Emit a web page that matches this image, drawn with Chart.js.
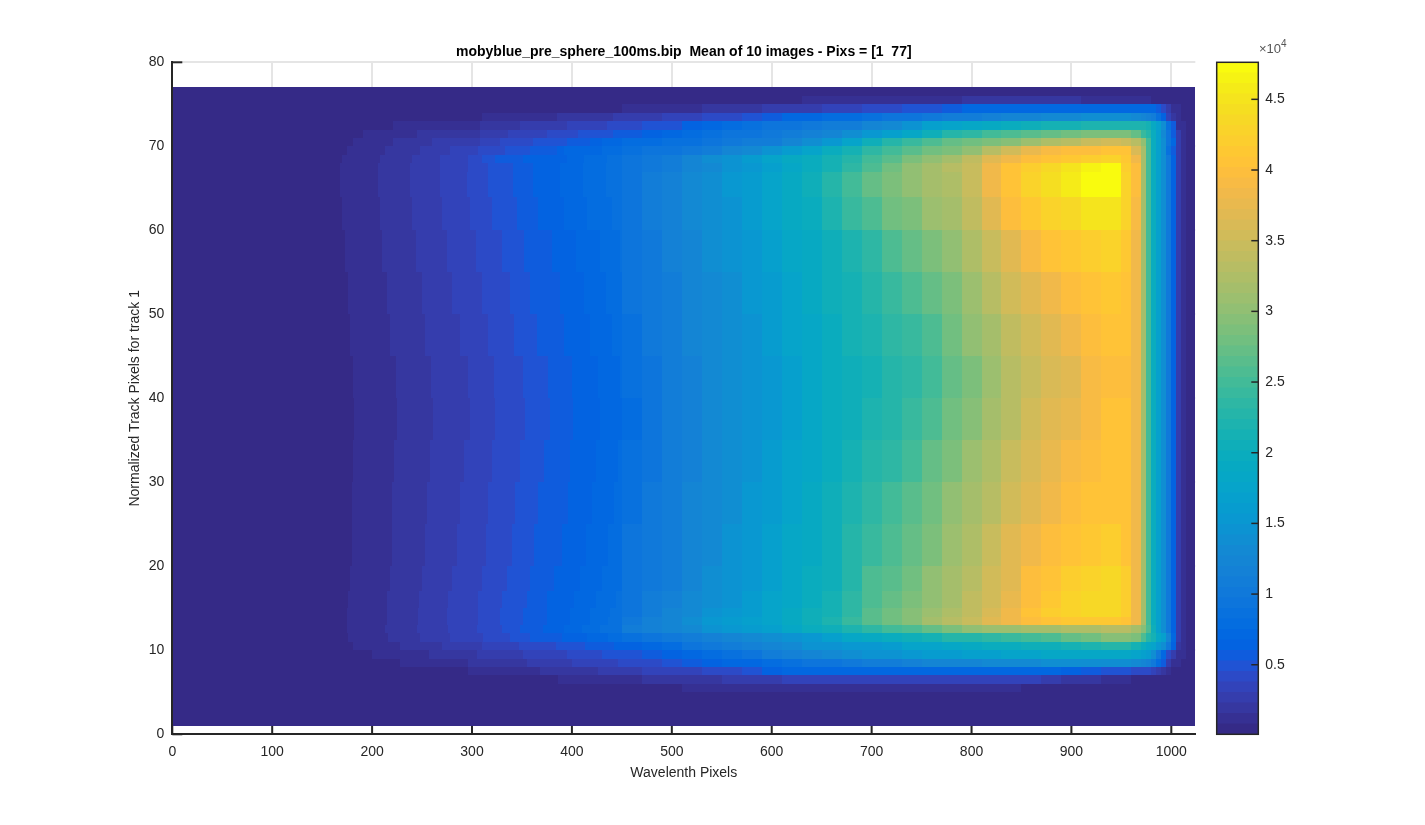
<!DOCTYPE html>
<html><head><meta charset="utf-8">
<style>
html,body{margin:0;padding:0;background:#fff;width:1425px;height:825px;overflow:hidden}
canvas{position:absolute;top:0;display:block}
#main{left:0}#bar{left:1200px}
</style>
<script src="https://cdn.jsdelivr.net/npm/chart.js@4/dist/chart.umd.min.js"></script>
</head><body>
<canvas id="main" width="1425" height="825"></canvas>
<canvas id="bar" width="225" height="825"></canvas>
<script>
const chartTitle = 'mobyblue_pre_sphere_100ms.bip  Mean of 10 images - Pixs = [1  77]';
const xAxisTitle = 'Wavelenth Pixels';
const yAxisTitle = 'Normalized Track Pixels for track 1';
const xTicks = [0,100,200,300,400,500,600,700,800,900,1000];
const yTicks = [0,10,20,30,40,50,60,70,80];
const colorbarTicks = [5000,10000,15000,20000,25000,30000,35000,40000,45000];
const colorMin = 80, colorMax = 47620;
const valueUnit = 100; // tables below are in hundreds of counts
const xStart = 1, xSplit = 450;
const rowEdges = [1,5,6,7,8,9,10,11,12,13,14,15,17,20,25,30,35,40,45,50,55,60,64,67,68,69,70,71,72,73,74,75,76,77];
// left of xSplit each row is a run of flat bands: leftValues[k] runs up to leftBreaks[row][k]
const leftValues = [4,12,19,27,34,42,49,56,64,71,79,86];
const leftBreaks = [
[],[],[386],[296,368,426],[228,296,355,400,446],[200,257,305,351,395,430],[181,228,270,310,347,384,413,442],
[176,216,248,278,311,338,358,390,415,436],[175,213,245,276,305,330,348,371,392,410,428],[175,215,246,275,306,328,351,375,398,418,436],
[175,215,246,275,306,328,351,375,398,418,438],[176,215,247,276,306,330,355,375,402,424,444],[178,218,250,280,310,335,358,382,408,430],
[180,220,253,285,314,340,362,390,414,436],[180,220,255,288,316,343,366,396,420,442],[181,222,258,292,320,348,372,398,424,446],
[182,225,261,298,323,353,378,401,428],[181,224,259,296,322,351,376,400,426,448],[178,218,253,288,316,342,365,392,418,440],
[176,215,250,280,310,338,358,388,412,434],[173,210,244,275,304,330,352,380,404,428,448],[170,208,240,270,298,320,345,366,392,415,440],
[168,206,238,268,295,316,341,361,388,411,434],[168,206,238,268,296,316,341,361,388,411,434],[170,208,240,268,296,310,323,351,395,412,435],
[175,213,248,278,306,333,358,385,392,430],[181,221,260,308,328,361,395,418,430],[191,245,308,336,375,406,441],[221,308,348,395,435],[310,385,441],[],[],[]
];
// right of xSplit: regular columns
const colEdges = [450,470,490,510,530,550,570,590,610,630,650,670,690,710,730,750,770,790,810,830,850,870,890,910,930,950,960,970,975,980,985,990,995,1000,1005,1010,1015,1024];
const cellValues = [
[4,4,4,4,4,4,4,4,4,4,4,4,4,4,4,4,4,4,4,4,4,4,4,4,4,4,4,4,4,4,4,4,4,4,4,4,4],
[4,4,4,12,12,12,12,12,12,12,12,12,12,12,12,12,12,12,12,12,4,4,4,4,4,4,4,4,4,4,4,4,4,4,4,4,4],
[12,19,19,19,19,27,27,27,34,34,34,34,34,34,34,34,34,34,34,34,34,27,19,19,12,12,4,4,4,4,4,4,4,4,4,4,4],
[27,34,34,34,42,42,49,64,68,71,72,72,73,74,75,75,75,74,73,72,71,70,66,60,52,46,42,40,38,33,27,19,12,4,4,4,4],
[42,42,49,56,64,68,72,79,84,90,95,101,106,110,115,120,125,127,129,131,133,135,137,139,140,138,130,124,116,100,80,58,30,14,10,4,4],
[49,56,64,72,80,88,97,109,114,120,130,138,143,148,153,158,163,167,170,174,177,180,182,184,185,183,175,168,160,135,100,70,45,25,12,10,4],
[64,72,82,92,100,108,118,126,134,142,146,150,156,164,172,178,185,190,195,199,203,208,213,220,228,228,215,195,185,172,155,135,100,65,22,12,4],
[88,95,101,110,116,122,130,138,146,154,170,183,190,197,204,214,224,231,238,243,250,258,270,280,292,295,285,255,230,210,185,165,125,75,28,12,4],
[106,115,124,134,146,153,160,170,182,194,205,218,232,246,260,272,285,298,306,312,316,318,323,326,330,330,320,295,260,205,170,140,100,65,28,12,4],
[101,113,124,138,152,158,165,178,190,203,218,240,262,280,297,315,330,345,368,384,398,405,410,413,415,405,380,320,250,195,165,135,100,65,28,12,4],
[97,108,120,132,145,152,162,175,190,202,216,238,262,277,292,308,325,342,362,384,405,418,428,436,438,420,385,320,250,195,165,135,100,65,28,12,4],
[94,105,115,128,140,148,158,172,186,198,212,235,258,272,288,304,320,337,355,378,398,412,425,435,438,420,385,320,250,195,165,135,100,65,28,12,4],
[92,102,112,125,136,145,155,170,183,195,208,230,255,268,283,298,315,332,350,372,395,408,420,430,435,418,385,320,250,195,165,135,100,65,28,12,4],
[90,100,110,122,133,142,152,167,180,192,205,225,245,258,272,290,307,325,345,365,385,398,408,415,418,408,380,320,250,195,165,135,100,65,28,12,4],
[88,98,108,120,130,140,150,164,177,190,202,222,238,250,264,282,298,316,335,353,372,385,395,402,408,403,380,320,250,195,165,135,100,65,28,12,4],
[84,95,106,118,128,138,148,160,173,186,198,214,226,238,252,272,288,306,325,345,360,375,388,396,404,402,380,320,250,195,165,135,100,65,28,12,4],
[82,95,105,118,128,136,145,155,170,182,195,208,218,228,240,258,278,295,315,330,350,365,378,392,402,402,380,320,250,195,165,135,100,65,28,12,4],
[83,95,106,118,128,137,146,156,170,183,196,208,216,226,236,252,270,290,310,328,345,358,372,388,400,400,380,320,250,195,165,135,100,65,28,12,4],
[88,98,108,120,130,139,148,159,172,185,198,210,220,232,245,260,280,302,320,338,355,372,385,395,405,403,380,320,250,195,165,135,100,65,28,12,4],
[92,101,111,122,132,141,150,162,176,188,202,215,225,240,255,270,290,310,330,350,368,382,395,408,415,406,380,320,250,195,165,135,100,65,28,12,4],
[95,104,114,125,135,144,153,165,180,193,208,222,238,258,272,286,305,322,345,372,390,402,415,422,425,412,385,320,250,195,165,135,100,65,28,12,4],
[96,105,116,128,138,147,157,172,188,200,218,240,258,276,290,306,320,338,365,395,412,425,438,447,450,428,390,320,250,195,165,135,100,65,28,12,4],
[96,105,118,130,140,150,160,175,192,205,225,250,270,285,300,315,325,345,380,405,425,440,455,470,473,430,395,320,250,195,165,135,100,65,28,12,4],
[96,101,108,120,130,142,155,168,180,195,215,235,258,278,298,315,330,348,385,408,422,437,452,468,470,420,395,320,250,195,165,135,100,65,28,12,4],
[92,98,110,122,137,147,158,172,187,200,215,230,250,268,288,305,318,340,368,383,397,406,415,424,428,415,385,320,250,195,165,135,100,65,28,12,4],
[84,90,95,100,108,120,134,148,162,178,196,212,232,250,268,278,288,305,330,350,375,392,396,400,404,404,360,320,250,200,165,135,85,60,28,12,4],
[77,80,84,88,93,98,105,112,125,140,155,175,205,226,240,255,270,280,290,295,310,322,335,345,352,348,330,305,250,195,165,135,95,68,28,12,4],
[56,66,72,78,84,90,96,100,106,115,125,140,155,170,185,205,225,238,250,260,268,274,282,288,290,285,270,245,225,195,165,130,90,60,25,12,4],
[42,49,50,64,72,78,84,90,94,100,105,112,125,132,145,165,176,184,190,197,204,210,214,218,220,222,222,220,212,190,165,135,85,55,15,10,4],
[27,27,34,34,42,42,49,56,68,72,78,82,86,90,94,100,106,110,115,120,125,130,134,137,138,136,130,124,118,108,85,62,36,20,12,4,4],
[12,12,12,12,19,19,19,27,27,27,34,34,42,42,49,49,60,68,70,72,73,74,75,75,75,75,74,74,73,68,56,42,27,12,12,4,4],
[4,4,4,4,4,4,4,4,4,12,12,12,12,12,12,12,12,19,19,19,19,19,19,12,12,12,12,12,12,4,4,4,4,4,4,4,4],
[4,4,4,4,4,4,4,4,4,4,4,4,4,4,4,4,4,4,4,4,4,4,4,4,4,4,4,4,4,4,4,4,4,4,4,4,4]
];
const parula = [[.2081,.1663,.5292],[.2116,.1898,.5777],[.2123,.2138,.6270],[.2081,.2386,.6771],[.1959,.2645,.7279],[.1707,.2919,.7792],[.1253,.3242,.8303],[.0591,.3598,.8683],[.0117,.3875,.8820],[.0060,.4086,.8828],[.0165,.4266,.8786],[.0329,.4430,.8720],[.0498,.4586,.8641],[.0629,.4737,.8554],[.0723,.4887,.8467],[.0779,.5040,.8384],[.0793,.5200,.8312],[.0749,.5375,.8263],[.0641,.5570,.8240],[.0488,.5772,.8228],[.0343,.5966,.8199],[.0265,.6137,.8135],[.0239,.6287,.8038],[.0231,.6418,.7913],[.0228,.6535,.7768],[.0267,.6642,.7607],[.0384,.6743,.7436],[.0590,.6838,.7254],[.0843,.6928,.7062],[.1133,.7015,.6859],[.1453,.7098,.6646],[.1801,.7177,.6424],[.2178,.7250,.6193],[.2586,.7317,.5954],[.3022,.7376,.5712],[.3482,.7424,.5473],[.3953,.7459,.5244],[.4420,.7481,.5033],[.4871,.7491,.4840],[.5300,.7491,.4661],[.5709,.7485,.4494],[.6099,.7473,.4337],[.6473,.7456,.4188],[.6834,.7435,.4044],[.7184,.7411,.3905],[.7525,.7384,.3768],[.7858,.7356,.3633],[.8185,.7327,.3498],[.8507,.7299,.3360],[.8824,.7274,.3217],[.9139,.7258,.3063],[.9450,.7261,.2886],[.9739,.7314,.2666],[.9938,.7455,.2403],[.9990,.7653,.2164],[.9955,.7861,.1967],[.9880,.8066,.1794],[.9789,.8271,.1633],[.9697,.8481,.1475],[.9626,.8705,.1309],[.9589,.8949,.1132],[.9598,.9218,.0948],[.9661,.9514,.0755],[.9763,.9831,.0538]];

const INK = '#262626';
const FONT = '"Liberation Sans", Arial, sans-serif';
const css = c => 'rgb(' + c.map(v => Math.round(v*255)).join(',') + ')';
const colorOf = v => {
  const i = Math.floor((v-colorMin)/(colorMax-colorMin)*parula.length);
  return css(parula[Math.max(0, Math.min(parula.length-1, i))]);
};
const cells = [];
rowEdges.slice(0,-1).forEach((y0,r) => {
  const y2 = rowEdges[r+1], ends = leftBreaks[r].concat([xSplit]);
  ends.forEach((e,k) => cells.push({x:k?ends[k-1]:xStart, x2:e, y:y0, y2, v:leftValues[k]*valueUnit}));
  colEdges.slice(0,-1).forEach((x0,c) => cells.push({x:x0, x2:colEdges[c+1], y:y0, y2, v:cellValues[r][c]*valueUnit}));
});

const heatPlugin = {
  id:'heatCells',
  beforeDatasetsDraw(chart){
    const {ctx, scales:{x,y}} = chart;
    ctx.save();
    ctx.strokeStyle = INK; ctx.lineWidth = 2;
    const bottom = y.getPixelForValue(0), left = x.getPixelForValue(0);
    xTicks.forEach(t => {
      const p = x.getPixelForValue(t);
      ctx.beginPath(); ctx.moveTo(p,bottom); ctx.lineTo(p,bottom-10); ctx.stroke();
    });
    yTicks.forEach(t => {
      const p = y.getPixelForValue(t);
      ctx.beginPath(); ctx.moveTo(left,p); ctx.lineTo(left+10,p); ctx.stroke();
    });
    cells.forEach(c => {
      const l = Math.round(x.getPixelForValue(c.x)), r = Math.round(x.getPixelForValue(c.x2));
      const t = Math.round(y.getPixelForValue(c.y2)), b = Math.round(y.getPixelForValue(c.y));
      ctx.fillStyle = colorOf(c.v);
      ctx.fillRect(l,t,r-l,b-t);
    });
    ctx.restore();
  }
};

new Chart(document.getElementById('main'), {
  type:'scatter',
  data:{datasets:[{label:'counts', data:cells.map(c => ({x:(c.x+c.x2)/2, y:(c.y+c.y2)/2})), pointRadius:0, pointHoverRadius:0}]},
  plugins:[heatPlugin],
  options:{
    responsive:false, animation:false, events:[],
    layout:{padding:{left:0,right:229.7,top:0,bottom:0}},
    plugins:{
      legend:{display:false}, tooltip:{enabled:false},
      title:{display:true, text:chartTitle, fullSize:false, color:'#000', font:{family:FONT,size:14,weight:'bold',lineHeight:1.2}, padding:{top:43.6,bottom:1.9}}
    },
    scales:{
      x:{type:'linear',min:0,max:1024,
        afterFit(s){s.height=90.7;},
        afterBuildTicks(s){s.ticks=xTicks.map(v=>({value:v}));},
        grid:{color:'#e5e5e5',lineWidth:2,drawTicks:false},
        border:{display:true,color:INK,width:2},
        ticks:{color:INK,padding:9,maxRotation:0,autoSkip:false,font:{family:FONT,size:14},callback:v=>String(v)},
        title:{display:true,text:xAxisTitle,color:INK,font:{family:FONT,size:14},padding:{top:0,bottom:43}}
      },
      y:{type:'linear',min:0,max:80,
        afterFit(s){s.width=172.3;},
        afterBuildTicks(s){s.ticks=yTicks.map(v=>({value:v}));},
        grid:{color:'#e5e5e5',lineWidth:2,drawTicks:false},
        border:{display:true,color:INK,width:2},
        ticks:{color:INK,padding:8,autoSkip:false,font:{family:FONT,size:14},callback:v=>String(v)},
        title:{display:true,text:yAxisTitle,color:INK,font:{family:FONT,size:14},padding:{top:127,bottom:0}}
      }
    }
  }
});

/* colour bar */
const barPlugin = {
  id:'barFrame',
  afterDraw(chart){
    const {ctx, chartArea:a, scales:{y}} = chart;
    ctx.save();
    ctx.strokeStyle = INK; ctx.lineWidth = 1.5;
    ctx.strokeRect(a.left,a.top,a.right-a.left,a.bottom-a.top);
    colorbarTicks.forEach(t => {
      const p = y.getPixelForValue(t);
      ctx.beginPath(); ctx.moveTo(a.right,p); ctx.lineTo(a.right-7,p); ctx.stroke();
    });
    ctx.fillStyle = '#555'; ctx.textBaseline='alphabetic'; ctx.textAlign='left';
    ctx.font = '13px '+FONT;
    ctx.fillText('\u00d710', 59, 53);
    ctx.font = '10px '+FONT;
    ctx.fillText('4', 81, 47);
    ctx.restore();
  }
};
new Chart(document.getElementById('bar'), {
  type:'bar',
  data:{labels:[''], datasets:parula.map((c,i) => ({
    data:[[colorMin+(colorMax-colorMin)*i/parula.length, colorMin+(colorMax-colorMin)*(i+1)/parula.length]],
    backgroundColor:css(c), borderWidth:0, borderSkipped:false, grouped:false,
    barPercentage:1, categoryPercentage:1
  }))},
  plugins:[barPlugin],
  options:{
    responsive:false, animation:false, events:[],
    layout:{padding:{left:16.7,right:0,top:62.3,bottom:90.7}},
    plugins:{legend:{display:false},tooltip:{enabled:false},title:{display:false}},
    scales:{
      x:{display:false},
      y:{type:'linear',position:'right',min:colorMin,max:colorMax,
        afterFit(s){s.width=225-58.3;},
        afterBuildTicks(s){s.ticks=colorbarTicks.map(v=>({value:v}));},
        grid:{display:false,drawTicks:false},border:{display:false},
        ticks:{color:INK,padding:7,autoSkip:false,font:{family:FONT,size:14},callback:v=>String(v/10000)}
      }
    }
  }
});
</script>
</body></html>
